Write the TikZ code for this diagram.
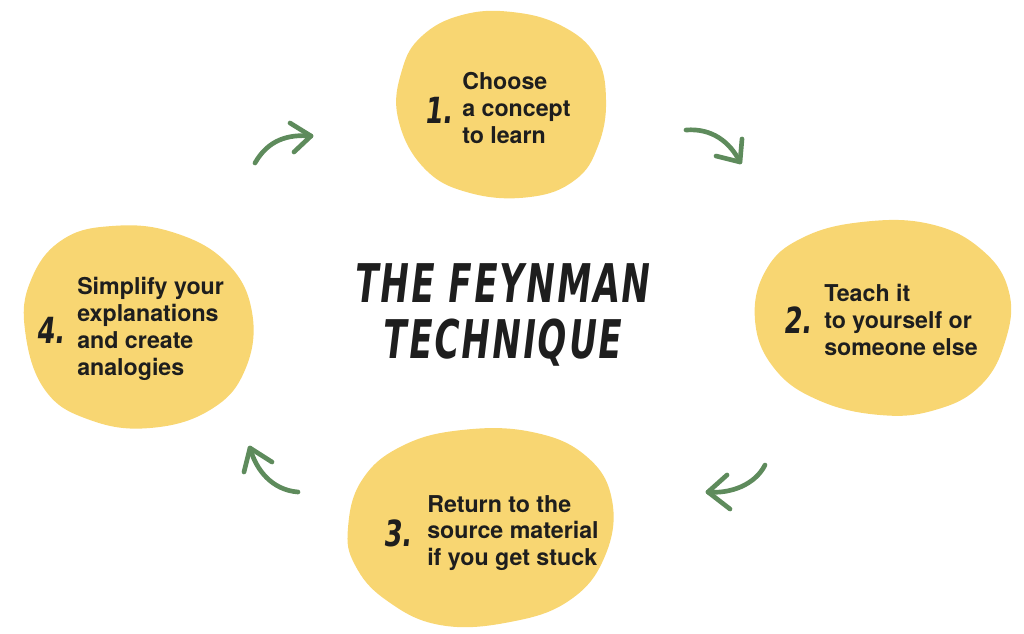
\documentclass[tikz,border=0pt]{standalone}
\usepackage{fontspec}
\setmainfont{TeX Gyre Heros}
\newfontfamily\handfont[FakeStretch=0.64,FakeSlant=0.12,LetterSpace=4]{DejaVu Sans}
\newfontfamily\numfont[FakeStretch=0.72,FakeSlant=0.12]{DejaVu Sans}
\definecolor{blobyellow}{HTML}{F8D672}
\definecolor{arrowgreen}{HTML}{5E8B5C}
\definecolor{inktext}{HTML}{1E1E1E}
\tikzset{
  blob/.style={fill=blobyellow, draw=none},
  bodytext/.style={align=left, anchor=west, inner sep=0pt, text=inktext,
    font=\fontsize{17.4}{20.1}\selectfont\bfseries},
  numtext/.style={anchor=center, inner sep=0pt, text=inktext,
    font=\fontsize{27}{27}\selectfont\numfont\bfseries},
  titletext/.style={anchor=center, inner sep=0pt, text=inktext,
    font=\fontsize{40}{45}\selectfont\handfont\bfseries},
  brush/.style={draw=arrowgreen, line width=3.5pt, line cap=round, line join=round},
}
\begin{document}
\begin{tikzpicture}[x=0.75pt,y=-0.75pt]
\useasboundingbox (0,0) rectangle (1024,633);
% blobs
\fill[blob] plot[smooth cycle, tension=0.7] coordinates {(398,118) (402,70) (422,36) (462,15) (512,12) (562,26) (596,56) (606,100) (598,146) (575,180) (530,197) (470,193) (424,168)};
\fill[blob] plot[smooth cycle, tension=0.7] coordinates {(755,320) (766,270) (802,238) (862,222) (930,224) (982,250) (1009,292) (1005,342) (980,386) (935,410) (880,415) (818,400) (774,368)};
\fill[blob] plot[smooth cycle, tension=0.7] coordinates {(348,528) (362,480) (402,446) (462,430) (532,432) (586,456) (612,500) (605,556) (570,600) (510,622) (440,625) (386,600) (355,565)};
\fill[blob] plot[smooth cycle, tension=0.7] coordinates {(25,330) (31,280) (62,240) (112,226) (172,232) (226,262) (252,312) (245,370) (210,410) (150,428) (90,420) (45,390)};
% title
\node[titletext] (t1) at (501,283) {THE FEYNMAN};
\node[titletext] (t2) at (501,343) {TECHNIQUE};
% step 1
\node[numtext] (n1) at (438,110) {1.};
\node[bodytext] (s1) at (462,108) {Choose\\a concept\\to learn};
% step 2
\node[numtext] (n2) at (797,320) {2.};
\node[bodytext] (s2) at (824,320) {Teach it\\to yourself or\\someone else};
% step 3
\node[numtext] (n3) at (397,533) {3.};
\node[bodytext] (s3) at (427,533) {Return to the\\source material\\if you get stuck};
% step 4
\node[numtext] (n4) at (50,330) {4.};
\node[bodytext] (s4) at (77,329) {Simplify your\\explanations\\and create\\analogies};
% arrows
\coordinate (a1s) at (255,163); \coordinate (a1e) at (311,136);
\coordinate (a1u) at (290,123); \coordinate (a1d) at (294,152);
\draw[brush] (a1s) .. controls (268,140) and (288,134) .. (a1e);
\draw[brush] (a1u) -- (a1e) -- (a1d);
\coordinate (a2s) at (686,130); \coordinate (a2e) at (740,162);
\coordinate (a2u) at (742,139); \coordinate (a2d) at (716,156);
\draw[brush] (a2s) .. controls (712,128) and (730,142) .. (a2e);
\draw[brush] (a2u) -- (a2e) -- (a2d);
\coordinate (a3s) at (765,465); \coordinate (a3e) at (708,492);
\coordinate (a3u) at (727,475); \coordinate (a3d) at (730,509);
\draw[brush] (a3s) .. controls (755,485) and (730,494) .. (a3e);
\draw[brush] (a3u) -- (a3e) -- (a3d);
\coordinate (a4s) at (298,492); \coordinate (a4e) at (250,448);
\coordinate (a4u) at (272,462); \coordinate (a4d) at (244,472);
\draw[brush] (a4s) .. controls (272,490) and (256,470) .. (a4e);
\draw[brush] (a4u) -- (a4e) -- (a4d);
\end{tikzpicture}
\end{document}
